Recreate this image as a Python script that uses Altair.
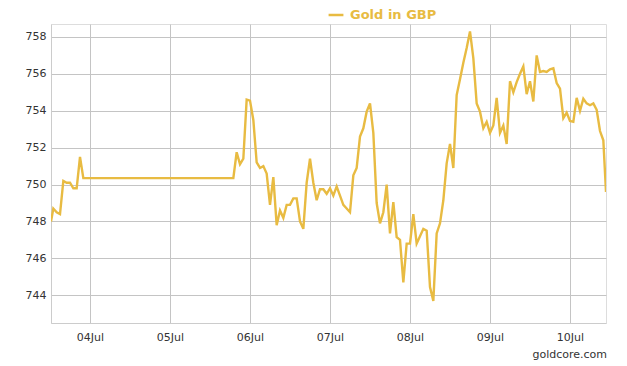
import altair as alt
import pandas as pd

# hours since 2015-07-03 00:00 (local) and Gold price in GBP
hours = [12.3, 13, 14, 15, 16, 17, 18, 19, 20, 21, 22, 67,
         68, 69, 70, 71, 72, 73, 74, 75, 76, 77, 78, 79, 80, 81, 82, 83, 84, 85,
         86, 87, 88, 89, 90, 91, 92, 93, 94, 95, 96, 97, 98, 99, 100, 101, 102,
         103, 104, 105, 106, 107, 108, 109, 110, 111, 112, 113, 114, 115, 116,
         117, 118, 119, 120, 121, 122, 123, 124, 125, 126, 127, 128, 129, 130,
         131, 132, 133, 134, 135, 136, 137, 138, 139, 140, 141, 142, 143, 144,
         145, 146, 147, 148, 149, 150, 151, 152, 153, 154, 155, 156, 157, 158,
         159, 160, 161, 162, 163, 164, 165, 166, 167, 168, 169, 170, 171, 172,
         173, 174, 175, 176, 177, 178, 178.8]
prices = [748.0, 748.7, 748.5, 748.4, 750.2, 750.1, 750.1, 749.8, 749.8, 751.5, 750.35, 750.35,
          751.75, 751.1, 751.4, 754.6, 754.55, 753.5, 751.2, 750.9, 751.0, 750.6, 748.9, 750.4,
          747.8, 748.6, 748.2, 748.9, 748.9, 749.25,
          749.25, 748.0, 747.6, 750.1, 751.4, 750.1, 749.15, 749.75, 749.75, 749.5, 749.8,
          749.4, 749.9, 749.4, 748.9, 748.7, 748.5,
          750.5, 750.9, 752.6, 753.05, 753.95, 754.4, 752.8, 749.0, 747.9, 748.5, 750.0,
          747.35, 749.05, 747.15,
          747.0, 744.7, 746.8, 746.8, 748.4, 746.8, 747.2, 747.6, 747.5, 744.45, 743.7,
          747.35, 747.9, 749.15,
          751.15, 752.2, 750.9, 754.85, 755.7, 756.6, 757.4, 758.3, 756.85, 754.4, 753.95,
          753.05, 753.4, 752.8,
          753.2, 754.7, 752.8, 753.2, 752.2, 755.6, 755.0, 755.55, 756.0, 756.4, 754.9,
          755.6, 754.5, 757.0,
          756.1, 756.15, 756.1, 756.25, 756.3, 755.5, 755.2, 753.6, 753.9, 753.45, 753.4,
          754.7, 754.0, 754.65,
          754.4, 754.3, 754.4, 754.05, 752.9, 752.4, 749.6]

y_ticks = [744, 746, 748, 750, 752, 754, 756, 758]
day_ticks = [4, 5, 6, 7, 8, 9, 10]
series_name = "Gold in GBP"
source_label = "goldcore.com"

base_time = pd.Timestamp("2015-07-03 00:00")
df = pd.DataFrame({
    "time": [(base_time + pd.Timedelta(minutes=round(h * 60))).strftime("%Y-%m-%dT%H:%M:%S") for h in hours],
    "price": prices,
    "series": series_name,
})

GOLD = "#E8BB42"
GRID = "#C4C4C4"
FONT = "DejaVu Sans"

x_enc = alt.X(
    "time:T",
    scale=alt.Scale(domain=[alt.DateTime(year=2015, month=7, date=3, hours=12, minutes=18),
                            alt.DateTime(year=2015, month=7, date=10, hours=10, minutes=48)]),
    axis=alt.Axis(
        title=None, format="%d%b",
        values=[alt.DateTime(year=2015, month=7, date=d) for d in day_ticks],
        ticks=False, labelPadding=8, labelFontSize=11, labelFont=FONT, labelColor="#333333",
        gridColor=GRID, gridWidth=1, domainColor="#CCCCCC", labelFlush=False,
    ),
)
y_enc = alt.Y(
    "price:Q",
    scale=alt.Scale(domain=[742.5, 758.7], nice=False, zero=False),
    axis=alt.Axis(
        title=None, values=y_ticks, format="d",
        ticks=False, labelPadding=5, labelFontSize=11, labelFont=FONT, labelColor="#333333",
        gridColor=GRID, gridWidth=1, domainColor="#CCCCCC",
    ),
)

line = alt.Chart(df).mark_line(strokeWidth=2.4, clip=True).encode(
    x=x_enc,
    y=y_enc,
    color=alt.Color(
        "series:N",
        scale=alt.Scale(range=[GOLD]),
        legend=alt.Legend(
            title=None, orient="none", legendX=276, legendY=-18,
            symbolType="stroke", symbolStrokeWidth=2.5, symbolSize=220,
            labelFont=FONT, labelFontSize=13, labelFontWeight="bold", labelColor=GOLD,
            labelOffset=5,
        ),
    ),
)

src = alt.Chart(pd.DataFrame({"t": [source_label]})).mark_text(
    align="right", baseline="middle", font=FONT, fontSize=11, color="#333333"
).encode(text="t:N", x=alt.value(556), y=alt.value(331))

chart = (line + src).properties(
    width=555, height=299,
    autosize=alt.AutoSizeParams(type="none"),
    padding={"left": 43, "top": 16, "right": 13, "bottom": 42},
).configure_view(stroke=None).configure(background="white")

chart.save("out.html", embed_options={"renderer": "svg", "actions": False})
